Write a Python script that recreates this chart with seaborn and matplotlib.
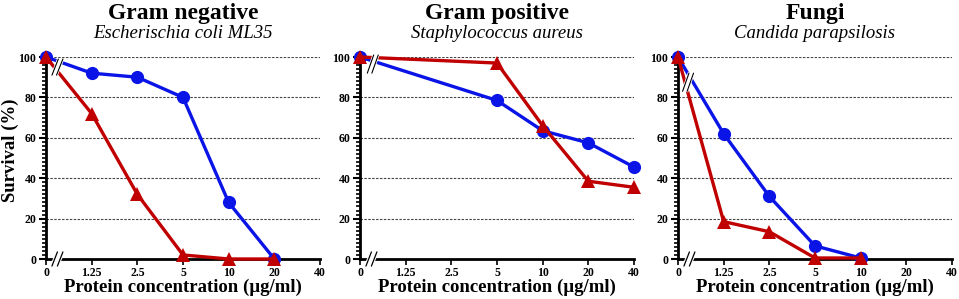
import numpy as np
import pandas as pd
import matplotlib
matplotlib.use("Agg")
import matplotlib.pyplot as plt
import seaborn as sns
from matplotlib.ticker import MultipleLocator

sns.set_theme(style="white")
plt.rcParams['font.family'] = ['Liberation Serif', 'DejaVu Serif']
plt.rcParams['text.color'] = 'black'
plt.rcParams['xtick.color'] = 'black'
plt.rcParams['ytick.color'] = 'black'
plt.rcParams['axes.labelcolor'] = 'black'

conc_labels = ["0", "1.25", "2.5", "5", "10", "20", "40"]

titles = ["Gram negative", "Gram positive", "Fungi"]
subtitles = ["Escherischia coli ML35", "Staphylococcus aureus", "Candida parapsilosis"]

# Panel 1: Gram negative
gn_conc = ["0", "1.25", "2.5", "5", "10", "20"]
gn_blue = [100, 92, 90, 80, 28, 0]
gn_red = [100, 72, 32, 2, 0, 0]
# Panel 2: Gram positive
gp_conc = ["0", "5", "10", "20", "40"]
gp_blue = [100, 78.5, 63.5, 57.5, 45.5]
gp_red = [100, 97, 66, 38.5, 35.5]
# Panel 3: Fungi
fu_conc = ["0", "1.25", "2.5", "5", "10"]
fu_blue = [100, 62, 31, 6.5, 0.5]
fu_red = [100, 18.5, 13.5, 0.5, 0.5]

panels = [(gn_conc, gn_blue, gn_red), (gp_conc, gp_blue, gp_red), (fu_conc, fu_blue, fu_red)]

BLUE = "#0A14E6"
RED = "#C00000"

fig = plt.figure(figsize=(9.59, 2.99), dpi=100)
W, H = 959, 299
lefts = [46, 360, 678]
axw = 274
ybot, ytop = 259, 57

# break slash positions (x in category index, y range) per panel
top_breaks = [(0.25, 99, 91), (0.28, 101, 92), (0.22, 92, 83)]

for i, (conc, blue, red) in enumerate(panels):
    ax = fig.add_axes([lefts[i] / W, (H - ybot) / H, axw / W, (ybot - ytop) / H])
    pos = [conc_labels.index(c) for c in conc]
    df = pd.DataFrame({
        "pos": pos + pos,
        "surv": blue + red,
        "series": ["blue"] * len(pos) + ["red"] * len(pos),
    })
    for y in [20, 40, 60, 80, 100]:
        ax.axhline(y, color="#444444", lw=0.8, ls=(0, (2.2, 1.3)), zorder=0.5)
    sns.lineplot(data=df, x="pos", y="surv", hue="series", style="series",
                 palette={"blue": BLUE, "red": RED},
                 markers={"blue": "o", "red": "^"}, dashes=False,
                 markersize=9.5, markeredgewidth=0, lw=2.4, legend=False, ax=ax,
                 clip_on=False, zorder=3)
    ax.set_xlim(0, 6)
    ax.set_ylim(0, 100)
    ax.set_xticks(range(7))
    ax.set_xticklabels(conc_labels, fontsize=8.5, fontweight="bold")
    ax.set_yticks([0, 20, 40, 60, 80, 100])
    ax.set_yticklabels(["0", "20", "40", "60", "80", "100"], fontsize=8.5, fontweight="bold")
    ax.yaxis.set_minor_locator(MultipleLocator(2))
    ax.tick_params(axis="y", which="major", direction="out", length=5, width=1.5, pad=2, left=True)
    ax.tick_params(axis="y", which="minor", direction="out", length=3, width=1.2, left=True)
    ax.tick_params(axis="x", which="major", direction="out", length=4, width=1.2, pad=2, bottom=True)
    for s in ["top", "right"]:
        ax.spines[s].set_visible(False)
    for s in ["left", "bottom"]:
        ax.spines[s].set_color("black")
        ax.spines[s].set_linewidth(2)
    ax.set_xlabel("")
    ax.set_ylabel("")
    ax.grid(False)
    ax.set_facecolor("white")
    # axis break on x-axis
    bx = 0.25
    ax.plot([bx - 0.06, bx + 0.06], [-3, 3], color="white", lw=6, clip_on=False, zorder=4,
            solid_capstyle="butt")
    for dx in (-0.06, 0.06):
        ax.plot([bx + dx - 0.06, bx + dx + 0.06], [-3.5, 3.5], color="black", lw=0.9,
                clip_on=False, zorder=5)
    # break on top line segment
    tx, y1, y2 = top_breaks[i]
    ax.plot([tx - 0.07, tx + 0.07], [y2, y1], color="white", lw=5, clip_on=False, zorder=4,
            solid_capstyle="butt")
    ax.plot([tx - 0.12, tx + 0.02], [y2, y1], color="black", lw=0.8, clip_on=False, zorder=5)
    ax.plot([tx - 0.02, tx + 0.12], [y2, y1], color="black", lw=0.8, clip_on=False, zorder=5)

    cx = (lefts[i] + axw / 2) / W
    fig.text(cx, 1 - 14 / H, titles[i], ha="center", va="center", fontsize=17, fontweight="bold")
    fig.text(cx, 1 - 34 / H, subtitles[i], ha="center", va="center", fontsize=13.5, style="italic")
    fig.text(cx, 1 - 287 / H, "Protein concentration (µg/ml)", ha="center", va="center",
             fontsize=13.5, fontweight="bold")

fig.text(10 / W, 1 - 150 / H, "Survival (%)", rotation=90, ha="center", va="center",
         fontsize=13.5, fontweight="bold")

fig.savefig("out.png", dpi=100, facecolor="white")
